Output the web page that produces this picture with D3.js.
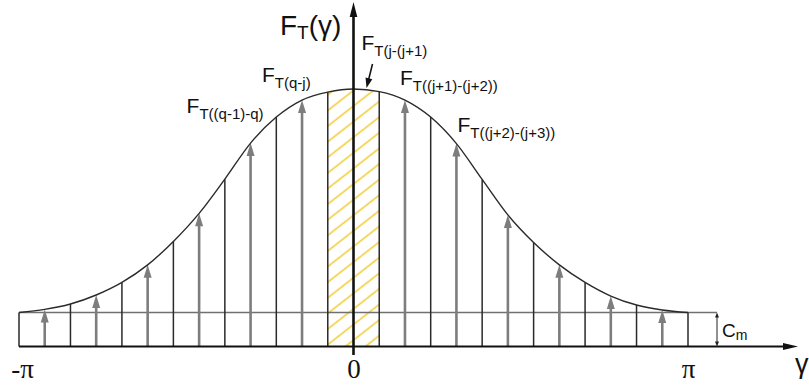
<!DOCTYPE html>
<html>
<head>
<meta charset="utf-8">
<script src="https://cdn.jsdelivr.net/npm/d3@7"></script>
<style>
  html, body { margin: 0; padding: 0; background: #fff; }
  svg { display: block; }
</style>
</head>
<body>
<svg id="chart" width="809" height="385"></svg>
<script>
// Grid of half-bin steps (units of π/13) spanning [-π, π]
const halfBinSteps = d3.range(-13, 14);
// Tension distribution F_T(γ) at each half-bin step (peak = 100)
const curveValues = [13.2, 14.4, 16.5, 20.0, 24.9, 31.7, 40.8, 51.7, 65.0, 79.0, 89.1, 95.7, 98.8,
                     100.0,
                     99.0, 95.7, 89.1, 78.8, 64.9, 51.1, 40.4, 31.7, 24.9, 19.6, 16.1, 14.2, 13.2];
// Minimum level C_m
const cmValue = 13.2;
// γ axis ticks
const tickValues = [-Math.PI, 0, Math.PI];
const tickLabels = ["-π", "0", "π"];
// Labelled bins: centre step and subscript text
const labelSteps = [-4, -2, 0, 2, 4];
const labelSubs = ["T((q-1)-q)", "T(q-j)", "T(j-(j+1)", "T((j+1)-(j+2))", "T((j+2)-(j+3))"];

const sans = "'Liberation Sans', Arial, Helvetica, sans-serif";
const serif = "'Liberation Serif', 'Times New Roman', serif";

const svg = d3.select("#chart");
const step = Math.PI / 13;

const x = d3.scaleLinear().domain([-Math.PI, Math.PI]).range([19, 688]);
const y = d3.scaleLinear().domain([0, 100]).range([346.5, 89]);

const pts = halfBinSteps.map((k, i) => ({ k, g: k * step, v: curveValues[i] }));
const valueAt = k => curveValues[halfBinSteps.indexOf(k)];

// ---- defs: hatch pattern + clip for the highlighted bin ----
const defs = svg.append("defs");
const pat = defs.append("pattern")
  .attr("id", "hatch")
  .attr("patternUnits", "userSpaceOnUse")
  .attr("width", 12.3).attr("height", 12.3)
  .attr("patternTransform", "rotate(-38)");
pat.append("line")
  .attr("x1", 0).attr("x2", 12.3).attr("y1", 6).attr("y2", 6)
  .attr("stroke", "#f2cd3c").attr("stroke-width", 1.6);

const area = d3.area()
  .x(d => x(d.g)).y0(y(0)).y1(d => y(d.v))
  .curve(d3.curveMonotoneX);
defs.append("clipPath").attr("id", "under-curve")
  .append("path").attr("d", area(pts));

// highlighted central bin
svg.append("rect")
  .attr("x", x(-step)).attr("width", x(step) - x(-step))
  .attr("y", y(100) - 5).attr("height", y(0) - y(100) + 5)
  .attr("fill", "url(#hatch)")
  .attr("clip-path", "url(#under-curve)");

// ---- C_m level line ----
const cmMarkX = x(Math.PI) + 29;
svg.append("line")
  .attr("x1", x(-Math.PI)).attr("x2", cmMarkX)
  .attr("y1", y(cmValue)).attr("y2", y(cmValue))
  .attr("stroke", "#707070").attr("stroke-width", 1.6);

// ---- bin boundaries (odd half-bin steps) ----
const bounds = pts.filter(d => Math.abs(d.k) % 2 === 1);
svg.append("g").selectAll("line").data(bounds).join("line")
  .attr("x1", d => x(d.g)).attr("x2", d => x(d.g))
  .attr("y1", y(0)).attr("y2", d => y(d.v))
  .attr("stroke", "#2a2a2a").attr("stroke-width", 1.5);

// ---- bin force arrows (even half-bin steps, except centre) ----
const arrows = pts.filter(d => Math.abs(d.k) % 2 === 0 && d.k !== 0);
const headLen = 13, headHalf = 4;
const ag = svg.append("g");
ag.selectAll("line").data(arrows).join("line")
  .attr("x1", d => x(d.g)).attr("x2", d => x(d.g))
  .attr("y1", y(0)).attr("y2", d => y(d.v) + headLen - 2)
  .attr("stroke", "#7d7d7d").attr("stroke-width", 2.6);
ag.selectAll("path").data(arrows).join("path")
  .attr("d", d => {
    const cx = x(d.g), ty = y(d.v);
    return `M${cx},${ty}L${cx - headHalf},${ty + headLen}L${cx + headHalf},${ty + headLen}Z`;
  })
  .attr("fill", "#7d7d7d");

// ---- distribution curve ----
const line = d3.line().x(d => x(d.g)).y(d => y(d.v)).curve(d3.curveMonotoneX);
svg.append("path").attr("d", line(pts))
  .attr("fill", "none").attr("stroke", "#2a2a2a").attr("stroke-width", 1.4);

// ---- C_m dimension marker ----
const cmG = svg.append("g").attr("stroke", "#222").attr("fill", "#222");
cmG.append("line")
  .attr("x1", cmMarkX).attr("x2", cmMarkX)
  .attr("y1", y(cmValue) + 3).attr("y2", y(0) - 3)
  .attr("stroke-width", 1);
cmG.append("path").attr("stroke", "none")
  .attr("d", `M${cmMarkX},${y(cmValue)}l-2,5h4Z M${cmMarkX},${y(0)}l-2,-5h4Z`);
const cmText = svg.append("text")
  .attr("x", cmMarkX + 5).attr("y", 337)
  .attr("font-family", sans).attr("fill", "#111");
cmText.append("tspan").attr("font-size", 19).text("C");
cmText.append("tspan").attr("font-size", 14).attr("dy", 3).text("m");

// ---- axes ----
const xAxis = d3.axisBottom(x)
  .tickValues(tickValues)
  .tickFormat((d, i) => tickLabels[i])
  .tickSize(0);
const gx = svg.append("g").attr("transform", `translate(0,${y(0)})`).call(xAxis);
gx.select(".domain").remove();
gx.selectAll("text")
  .attr("y", 31).attr("dy", null)
  .attr("dx", (d, i) => (i === 0 ? 3 : 0))
  .attr("font-family", serif).attr("font-size", 27).attr("fill", "#111");

// γ axis line with arrow
const axX1 = 798;
svg.append("line")
  .attr("x1", x(-Math.PI)).attr("x2", axX1 - 10)
  .attr("y1", y(0)).attr("y2", y(0))
  .attr("stroke", "#111").attr("stroke-width", 2);
svg.append("path")
  .attr("d", `M${axX1},${y(0)}L${axX1 - 15},${y(0) - 3.5}L${axX1 - 15},${y(0) + 3.5}Z`)
  .attr("fill", "#111");
svg.append("text").attr("x", 795).attr("y", 373)
  .attr("font-family", sans).attr("font-size", 27).attr("fill", "#111").text("γ");

// F_T axis line with arrow
const x0 = x(0);
svg.append("line")
  .attr("x1", x0).attr("x2", x0)
  .attr("y1", 355).attr("y2", 14)
  .attr("stroke", "#111").attr("stroke-width", 2.6);
svg.append("path")
  .attr("d", `M${x0},2L${x0 - 3.8},17L${x0 + 3.8},17Z`)
  .attr("fill", "#111");

// F label helper: big "F" with a subscript and optional tail
function fLabel(px, py, big, small, sub, shift, tail) {
  const t = svg.append("text").attr("x", px).attr("y", py)
    .attr("font-family", sans).attr("fill", "#111");
  t.append("tspan").attr("font-size", big).text("F");
  t.append("tspan").attr("font-size", small).attr("dy", shift).text(sub);
  if (tail) t.append("tspan").attr("font-size", big).attr("dy", -shift).text(tail);
  return t;
}

fLabel(280, 35, 28, 19, "T", 4, "(γ)");

// bin labels placed relative to each bin's arrow tip
const labelOffsets = [[-64, -30], [-40, -18], [8, -39], [-5, -15], [1, -12]];
labelSteps.forEach((k, i) => {
  const ax = x(k * step), ay = y(valueAt(k === 0 ? 0 : k));
  fLabel(ax + labelOffsets[i][0], ay + labelOffsets[i][1], 21, 15, labelSubs[i], 6);
});

// pointer to the central bin
const px1 = x0 + 19, py1 = 64, px2 = x0 + 13, py2 = y(valueAt(0)) - 1;
const ang = Math.atan2(py2 - py1, px2 - px1);
svg.append("line")
  .attr("x1", px1).attr("y1", py1)
  .attr("x2", px2 - 8 * Math.cos(ang)).attr("y2", py2 - 8 * Math.sin(ang))
  .attr("stroke", "#111").attr("stroke-width", 1.5);
svg.append("path")
  .attr("d", `M0,0L-10,-3.5L-10,3.5Z`)
  .attr("transform", `translate(${px2},${py2}) rotate(${ang * 180 / Math.PI})`)
  .attr("fill", "#111");
</script>
</body>
</html>
